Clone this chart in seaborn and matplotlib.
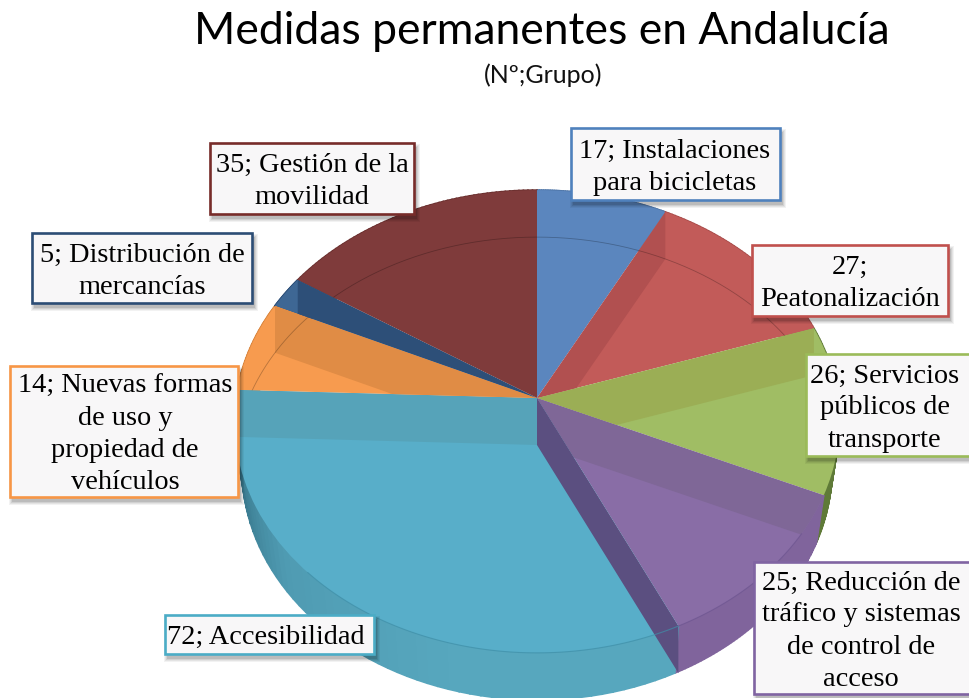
import numpy as np
import matplotlib
matplotlib.use("Agg")
import matplotlib.pyplot as plt
from matplotlib.patches import Rectangle
from matplotlib.transforms import Transform
import seaborn as sns

sns.set_theme(style="white")

title = "Medidas permanentes en Andalucía"
subtitle = "(Nº;Grupo)"

# data, clockwise from the top of the pie
grupos = ["Instalaciones\npara bicicletas", "\nPeatonalización",
          "Servicios\npúblicos de\ntransporte",
          "Reducción de\ntráfico y sistemas\nde control de\nacceso",
          "Accesibilidad", "Nuevas formas\nde uso y\npropiedad de\nvehículos",
          "Distribución de\nmercancías", "Gestión de la\nmovilidad"]
valores = [17, 27, 26, 25, 72, 14, 5, 35]

colores = ["#5B86BE", "#C25B59", "#A0BD64", "#896DA6", "#58AEC9", "#F79B4F", "#3E6794", "#7F3B3B"]
bordes = ["#4F81BD", "#C0504D", "#9BBB59", "#8064A2", "#4BACC6", "#F79646", "#2C4D75", "#772C2A"]
paredes = ["#4F76A8", "#A94D4B", "#5F7A38", "#80649C", "#58A5BD", "#D9863F", "#2D4F78", "#6A2F2E"]

# label boxes: left, right, top, bottom in pixels
cajas = [(571, 780, 128, 200), (752, 948, 245, 316), (806, 980, 354, 456), (754, 980, 562, 694),
         (165, 374, 615, 654), (10, 238, 366, 497), (32, 252, 233, 303), (210, 414, 143, 214)]
centros_x = [675, 850, 885, 861, 266, 125, 142, 312]

# where the pie sits in the picture
CX, CY, RX, RY, K, ALTO = 537, 398, 301, 229, 0.1015, 47


class Tilt(Transform):
    # unit circle -> tilted disc in pixels, with perspective
    input_dims = 2
    output_dims = 2

    def __init__(self, dy=0):
        super().__init__()
        self.dy = dy

    def transform_non_affine(self, xy):
        xy = np.asarray(xy, dtype=float)
        w = 1 + K * xy[:, 1]
        return np.column_stack([CX + RX * xy[:, 0] / w, CY + self.dy - RY * xy[:, 1] / w])


def disc(theta, dy=0):
    theta = np.radians(np.atleast_1d(theta))
    return Tilt(dy).transform_non_affine(np.column_stack([np.cos(theta), np.sin(theta)]))


fig = plt.figure(figsize=(9.69, 6.98), dpi=100)
ax = fig.add_axes([0, 0, 1, 1])
paleta = sns.color_palette(colores)

wedges, _ = ax.pie(valores, colors=paleta, startangle=90, counterclock=False, radius=1)
ax.set_aspect("auto")
ax.set_xlim(0, 969)
ax.set_ylim(698, 0)
ax.axis("off")

tilt = Tilt() + ax.transData
for w in wedges:
    w.set_transform(tilt)
    w.set_linewidth(0)
    w.set_zorder(2)

# slice borders as angles
borde = 90 - 360 * np.cumsum([0] + valores) / sum(valores)

# outer wall, darker toward the left edge; lower rim a bit narrower than the top
for i in range(len(valores)):
    n = 60
    th = np.linspace(borde[i], borde[i + 1], n + 1)
    if i == 4:
        tonos = sns.blend_palette(["#57A7BE", "#57A7BE", "#4F9BB2", "#2C6478"], n)
    else:
        tonos = sns.blend_palette([paredes[i], paredes[i]], n)
    for j in range(n):
        arriba = disc(th[j:j + 2])
        abajo = disc(th[j:j + 2], ALTO)
        abajo[:, 0] = CX + (abajo[:, 0] - CX) * 0.975
        pts = np.vstack([arriba, abajo[::-1]])
        ax.fill(pts[:, 0], pts[:, 1], fc=tonos[j], ec=tonos[j], lw=1.2, zorder=1)

# inner faces of the slices, seen through the top
caras = [(1, 1, "#B15050", True), (2, 2, "#9BAE55", True), (3, 3, "#7F6797", True),
         (4, 5, "#56A3B9", True), (5, 6, "#E08C45", True), (6, 7, "#2D4F78", True),
         (3, 4, "#5B4F80", False)]
for sl, ed, col, recorta in caras:
    a = disc(borde[ed])[0]
    b = disc(borde[ed], ALTO)[0]
    pts = np.array([[CX, CY], a, b, [CX, CY + ALTO]])
    poly = ax.fill(pts[:, 0], pts[:, 1], color=col, lw=0, zorder=3)[0]
    if recorta:
        poly.set_clip_path(wedges[sl])

# lower edge of the pie showing through, only on some slices
fondo = disc(np.linspace(0, 360, 500), ALTO)
for sl in [0, 1, 5, 7]:
    linea = ax.plot(fondo[:, 0], fondo[:, 1], color="black", lw=0.6, alpha=0.25, zorder=4)[0]
    linea.set_clip_path(wedges[sl])

# front rim of the top
for ini, fin, col in [(225, borde[4] + 360, "#3F8FA8"), (borde[4] + 360, 326, "#6D5590")]:
    arco = disc(np.linspace(ini, fin, 100))
    ax.plot(arco[:, 0], arco[:, 1], color=col, lw=0.8, alpha=0.7, zorder=4)

# label boxes
for i, (grupo, valor) in enumerate(zip(grupos, valores)):
    x0, x1, y0, y1 = cajas[i]
    for g, al in [(7, 0.05), (5, 0.06), (3, 0.08), (1, 0.1)]:
        ax.add_patch(Rectangle((x0 + 3 - g / 2, y0 + 4 - g / 2), x1 - x0 + g, y1 - y0 + g,
                               fc="black", ec="none", alpha=al, zorder=5))
    ax.add_patch(Rectangle((x0, y0), x1 - x0, y1 - y0, fc="#F8F7F8", ec=bordes[i], lw=1.9, zorder=6))
    txt = f"{valor}; {grupo}".replace(" \n", "\n")
    ax.text(centros_x[i], (y0 + y1) / 2 + 3, txt, ha="center", va="center", ma="center",
            family="Liberation Serif", fontsize=20.4, color="black", linespacing=1.37, zorder=7)

ax.text(542, 31, title, ha="center", va="center", family="Lato", fontsize=32, color="black")
ax.text(543, 75, subtitle, ha="center", va="center", family="Lato", fontsize=18, color="#111111")

fig.savefig("out.png", dpi=100)
